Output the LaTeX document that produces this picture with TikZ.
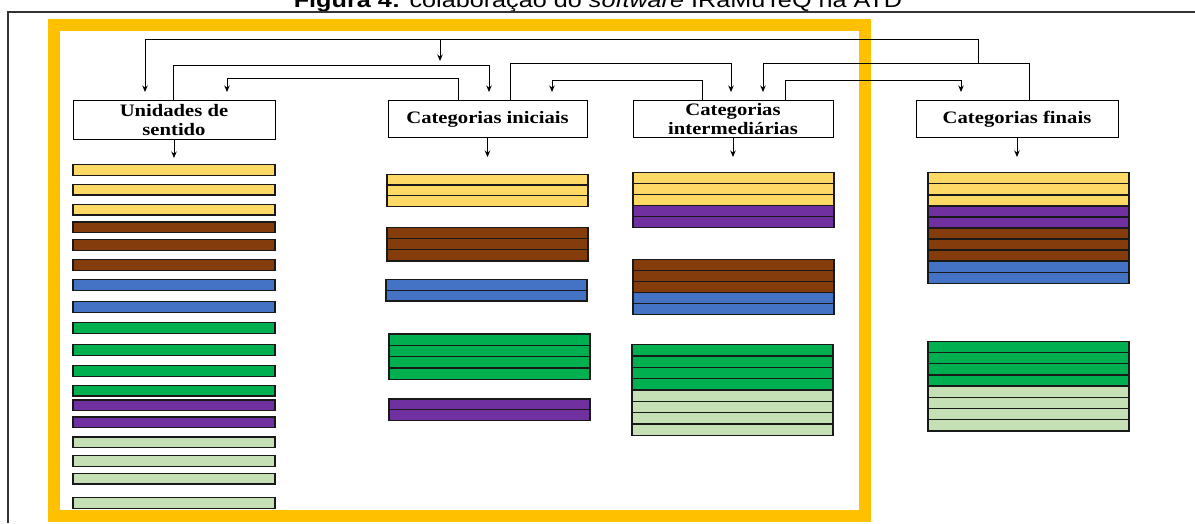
\documentclass[tikz,border=0pt]{standalone}
\usepackage{fontspec}
\setmainfont{Liberation Serif}
\newfontfamily\boxfont[FakeStretch=1.18]{Liberation Serif}
\newfontfamily\titlefont[FakeStretch=1.2]{Liberation Sans}
\usetikzlibrary{arrows.meta}
\definecolor{yel}{HTML}{FFD966}
\definecolor{brn}{HTML}{843C0C}
\definecolor{blu}{HTML}{4472C4}
\definecolor{grn}{HTML}{00B050}
\definecolor{pur}{HTML}{7030A0}
\definecolor{lgr}{HTML}{C5E0B4}
\definecolor{frameyel}{HTML}{FFC000}
\newcommand\barstack[5]{%
  \foreach \c [count=\i from 0] in {#5} {%
    \draw[bar,fill=\c] ({#1},{#2+\i*#4}) rectangle ++({#3},{#4});}}
\begin{document}
\begin{tikzpicture}[x=1pt,y=-1pt,
  lbl/.style={draw=black, line width=1pt, fill=white, align=center,
    font=\boxfont\bfseries\fontsize{17.5}{19.5}\selectfont,
    minimum height=37pt, inner sep=1pt, anchor=north},
  conn/.style={draw=black, line width=0.9pt},
  arr/.style={conn, -{Stealth[length=6.5pt,width=5.5pt]}},
  bar/.style={draw=black!90, line width=1.4pt}]
\useasboundingbox (0,0) rectangle (1195,523);
% title (clipped at top as in the reference)
\node[anchor=base, font=\titlefont\fontsize{21}{24}\selectfont] (title) at (598,7)
  {\textbf{Figura 4:} colaboração do \textit{software} IRaMuTeQ na ATD};
% outer frame
\draw[line width=2pt, black!80] (8,523) -- (8,12) -- (1195,12);
% yellow frame
\draw[line width=12pt, frameyel] (53.5,24.5) rectangle (864.5,516);
% boxes
\node[lbl, minimum width=202pt, minimum height=39pt] (us) at (174,100) {Unidades de\\sentido};
\node[lbl, minimum width=199pt] (ci) at (487.5,100) {Categorias iniciais};
\node[lbl, minimum width=200pt] (cm) at (733,100) {Categorias\\intermediárias};
\node[lbl, minimum width=202pt] (cf) at (1017,100) {Categorias finais};
% connector end points
\coordinate (usin1) at (145,92);
\coordinate (usin2) at (227,92);
\coordinate (ciin1) at (489,92);
\coordinate (ciin2) at (552,92);
\coordinate (cmin1) at (731,92);
\coordinate (cmin2) at (763,92);
\coordinate (cfin1) at (961,92);
\coordinate (k2) at (978,63);
\coordinate (top1) at (978,39);
\coordinate (j0) at (440,39);
\coordinate (j1) at (440,61);
\coordinate (usout) at (174,158);
\coordinate (ciout) at (487.5,157);
\coordinate (cmout) at (733,157);
\coordinate (cfout) at (1017,157);
% connectors
\draw[arr] ([xshift=-1pt]us.north) -- ++(0,-35) -| (ciin1);
\draw[arr] ([xshift=-29.5pt]ci.north) -- ++(0,-22) -| (usin2);
\draw[arr] ([xshift=22.5pt]ci.north) -- ++(0,-37) -| (cmin1);
\draw[arr] ([xshift=-31pt]cm.north) -- ++(0,-20) -| (ciin2);
\draw[arr] ([xshift=52pt]cm.north) -- ++(0,-20) -| (cfin1);
\draw[arr] ([xshift=12pt]cf.north) -- ++(0,-37) -| (cmin2);
\draw[arr] (k2) -- (top1) -| (usin1);
\draw[arr] (j0) -- (j1);
\draw[arr] (us.south) -- (usout);
\draw[arr] (ci.south) -- (ciout);
\draw[arr] (cm.south) -- (cmout);
\draw[arr] (cf.south) -- (cfout);
% left column bars
\foreach \y/\c in {164.7/yel,184.3/yel,204.3/yel,222/brn,239.7/brn,259.7/brn,
  279.7/blu,301.7/blu,322.7/grn,344.7/grn,365.7/grn,385.3/grn,400/pur,417/pur,
  437/lgr,455.7/lgr,473.3/lgr,497.7/lgr}
  \draw[bar,fill=\c] (73,\y) rectangle ++(202,10.5);
% initial categories
\barstack{387}{174.3}{201}{10.67}{yel,yel,yel}
\barstack{387}{227.3}{201}{11.23}{brn,brn,brn}
\barstack{386}{279.7}{201}{10.65}{blu,blu}
\barstack{389}{334}{201}{11.33}{grn,grn,grn,grn}
\barstack{389}{399}{201}{10.65}{pur,pur}
% intermediate categories
\barstack{633}{172.7}{201}{10.93}{yel,yel,yel,pur,pur}
\barstack{633}{259.7}{201}{11}{brn,brn,brn,blu,blu}
\barstack{632}{344.7}{201}{11.33}{grn,grn,grn,grn,lgr,lgr,lgr,lgr}
% final categories
\barstack{928}{172.7}{201}{11.06}{yel,yel,yel,pur,pur,brn,brn,brn,blu,blu}
\barstack{928}{341.3}{201}{11.21}{grn,grn,grn,grn,lgr,lgr,lgr,lgr}
\end{tikzpicture}
\end{document}
